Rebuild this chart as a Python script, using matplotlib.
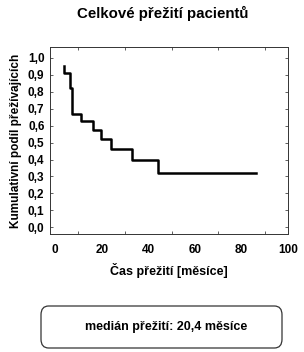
import matplotlib
matplotlib.use("Agg")
import matplotlib.pyplot as plt
from matplotlib.patches import FancyBboxPatch

# Data
times = [3.9, 3.9, 6.4, 7.1, 11.0, 16.2, 19.6, 23.9, 32.9, 44.3, 86.3]
survival = [0.955, 0.91, 0.82, 0.67, 0.625, 0.575, 0.52, 0.46, 0.40, 0.32, 0.32]
xticks = [0, 20, 40, 60, 80, 100]
yticks = [0.0, 0.1, 0.2, 0.3, 0.4, 0.5, 0.6, 0.7, 0.8, 0.9, 1.0]
ytick_labels = ["0,0", "0,1", "0,2", "0,3", "0,4", "0,5", "0,6", "0,7", "0,8", "0,9", "1,0"]
title = "Celkové přežití pacientů"
xlabel = "Čas přežití [měsíce]"
ylabel = "Kumulativní podíl přežívajících"
median_text = "medián přežití: 20,4 měsíce"

plt.rcParams['font.family'] = ['Liberation Sans', 'DejaVu Sans']
plt.rcParams['font.weight'] = 'bold'

W, H = 304, 352
fig = plt.figure(figsize=(W / 100, H / 100), dpi=100)
ax = fig.add_axes([50 / W, 1 - 234 / H, (288 - 50) / W, (234 - 47) / H])

ax.plot(times, survival, drawstyle='steps-post', color='black', lw=1.8)
ax.set_xlim(-2.2, 100)
ax.set_ylim(-0.04, 1.065)
ax.set_xticks(xticks)
ax.set_xticklabels([str(v) for v in xticks], fontsize=8.5, fontweight='bold')
ax.set_yticks(yticks)
ax.set_yticklabels(ytick_labels, fontsize=8.5, fontweight='bold')
ax.set_xticks(range(0, 101, 10), minor=True)
ax.tick_params(axis='both', which='both', direction='in', top=True, right=True,
               length=2.5, width=0.6, color='#444444', pad=5)
ax.tick_params(axis='y', which='major', pad=4)
ax.tick_params(axis='x', which='major', length=0, pad=7)
ax.tick_params(axis='x', which='minor', length=2.5)
for sp in ax.spines.values():
    sp.set_linewidth(0.7)
    sp.set_color('#333333')
    sp.set_linestyle((0, (4, 1)))

ax.set_xlabel(xlabel, fontsize=9, fontweight='bold', labelpad=5)
ax.set_ylabel(ylabel, fontsize=8.5, fontweight='bold', labelpad=4)

fig.text(163 / W, 1 - 13 / H, title, ha='center', va='center', fontsize=10.8, fontweight='bold')

box = FancyBboxPatch((41 / W, 1 - 348 / H), (282 - 41) / W, (348 - 306) / H,
                     boxstyle="round,pad=0,rounding_size=0.025", transform=fig.transFigure,
                     facecolor='white', edgecolor='#333333', lw=0.9)
fig.patches.append(box)
fig.text(166 / W, 1 - 327 / H, median_text, ha='center', va='center', fontsize=9, fontweight='bold')

fig.savefig("out.png", dpi=100)
